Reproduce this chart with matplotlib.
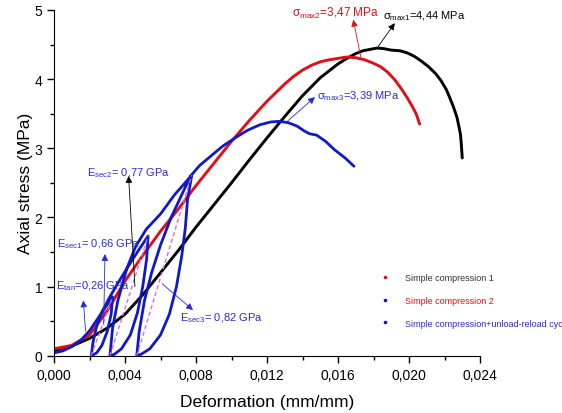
import matplotlib
matplotlib.use("Agg")
import matplotlib.pyplot as plt
from matplotlib.lines import Line2D
from matplotlib.ticker import MultipleLocator, FuncFormatter

plt.rcParams['font.family'] = ['Liberation Sans', 'DejaVu Sans']
plt.rcParams['mathtext.fontset'] = 'custom'
plt.rcParams['mathtext.rm'] = 'Liberation Sans'

# Simple compression 1 (black)
c1_x = [0, 0.001, 0.002, 0.003, 0.004, 0.005, 0.006, 0.007, 0.008, 0.009, 0.010,
        0.011, 0.012, 0.013, 0.014, 0.015, 0.0155, 0.016, 0.0165, 0.017, 0.0174,
        0.0178, 0.0182, 0.0186, 0.019, 0.0195, 0.0199, 0.0203, 0.0207, 0.0211,
        0.0215, 0.0218, 0.0221, 0.0223, 0.0225, 0.0227, 0.0228, 0.0229, 0.02295, 0.0230]
c1_y = [0.07, 0.14, 0.25, 0.4, 0.6, 0.88, 1.2, 1.52, 1.86, 2.18, 2.5,
        2.83, 3.15, 3.46, 3.76, 4.02, 4.12, 4.22, 4.3, 4.37, 4.41,
        4.43, 4.45, 4.44, 4.42, 4.41, 4.38, 4.33, 4.26, 4.18,
        4.08, 3.98, 3.85, 3.73, 3.6, 3.45, 3.33, 3.2, 3.05, 2.86]

# Simple compression 2 (red)
c2_x = [0, 0.001, 0.002, 0.003, 0.004, 0.005, 0.006, 0.007, 0.008, 0.009, 0.010,
        0.011, 0.012, 0.013, 0.0135, 0.014, 0.0145, 0.015, 0.0155, 0.016, 0.0165,
        0.017, 0.0175, 0.018, 0.0184, 0.0188, 0.0192, 0.0196, 0.0199, 0.0202,
        0.0204, 0.0206]
c2_y = [0.1, 0.15, 0.3, 0.65, 1.08, 1.45, 1.8, 2.12, 2.46, 2.78, 3.1,
        3.4, 3.68, 3.93, 4.04, 4.13, 4.2, 4.25, 4.28, 4.3, 4.32,
        4.31, 4.28, 4.23, 4.18, 4.1, 3.99, 3.85, 3.73, 3.6,
        3.5, 3.35]

# Simple compression + unload-reload cycles (blue), in loading order
load_x = [0, 0.0005, 0.001, 0.0015, 0.002, 0.0025, 0.003, 0.0033]
load_y = [0.04, 0.07, 0.13, 0.22, 0.36, 0.55, 0.74, 0.85]
unload1_x = [0.0033, 0.00322, 0.0030, 0.0027, 0.0024, 0.0021]
unload1_y = [0.85, 0.6, 0.35, 0.15, 0.04, 0.0]
reload1_x = [0.0021, 0.0022, 0.0024, 0.0027, 0.0031, 0.0036, 0.0042, 0.0047, 0.0053]
reload1_y = [0.0, 0.2, 0.42, 0.63, 0.83, 1.05, 1.3, 1.5, 1.73]
unload2_x = [0.0053, 0.00522, 0.0050, 0.0047, 0.0043, 0.0038, 0.0034, 0.00315]
unload2_y = [1.73, 1.4, 1.0, 0.62, 0.3, 0.1, 0.02, 0.0]
reload2_x = [0.00315, 0.0033, 0.0036, 0.0041, 0.0046, 0.0052, 0.0060, 0.0068, 0.00776]
reload2_y = [0.0, 0.4, 0.8, 1.26, 1.58, 1.83, 2.05, 2.33, 2.61]
unload3_x = [0.00776, 0.00752, 0.0074, 0.0072, 0.0069, 0.0065, 0.0060, 0.0054, 0.0049, 0.00466]
unload3_y = [2.61, 2.25, 1.85, 1.45, 1.0, 0.6, 0.3, 0.1, 0.02, 0.0]
reload3_x = [0.00466, 0.0048, 0.0051, 0.0055, 0.0060, 0.0066, 0.0072, 0.0077, 0.0082,
             0.0088, 0.0095, 0.0102, 0.0109, 0.0116, 0.0122, 0.0127, 0.0132, 0.0137,
             0.0141, 0.0144, 0.0148, 0.0153, 0.0158, 0.0164, 0.0169]
reload3_y = [0.0, 0.35, 0.8, 1.2, 1.6, 2.0, 2.33, 2.6, 2.75,
             2.88, 3.03, 3.15, 3.26, 3.34, 3.38, 3.39, 3.37, 3.32,
             3.25, 3.21, 3.19, 3.1, 2.98, 2.86, 2.74]

cyc_x = load_x + unload1_x + reload1_x + unload2_x + reload2_x + unload3_x + reload3_x
cyc_y = load_y + unload1_y + reload1_y + unload2_y + reload2_y + unload3_y + reload3_y

# secant lines of the three loops
sec_bottom_x = [0.0021, 0.00315, 0.00466]
sec_peak_x = [0.0033, 0.0053, 0.00776]
sec_peak_y = [0.85, 1.73, 2.61]

legend_labels = ["Simple compression 1", "Simple compression 2",
                 "Simple compression+unload-reload cyc"]

RED = "#e0101a"
BLUE = "#1018c8"
TXT_BLUE = "#2a2ad8"

fig = plt.figure(figsize=(5.62, 4.14), dpi=100)
ax = fig.add_axes([54 / 562, 57.3 / 414, 426 / 562, 345.7 / 414])

ax.plot(c1_x, c1_y, color="black", lw=2.1, solid_capstyle="round")
ax.plot(c2_x, c2_y, color=RED, lw=2.1, solid_capstyle="round")
ax.plot(cyc_x, cyc_y, color=BLUE, lw=2.0, solid_joinstyle="round", solid_capstyle="round")

for bx, px, py in zip(sec_bottom_x, sec_peak_x, sec_peak_y):
    ax.plot([bx, px], [0, py], color="#d070e0", lw=1.0, ls=(0, (3, 2)))

# annotations
arrow = dict(arrowstyle="-|>", lw=0.6, mutation_scale=10, shrinkA=0, shrinkB=0)
ax.annotate("", xy=(0.01686, 4.86), xytext=(0.0173, 4.3), arrowprops=dict(arrow, color=RED))
ax.annotate("", xy=(0.0192, 4.81), xytext=(0.0182, 4.45), arrowprops=dict(arrow, color="black"))
ax.annotate("", xy=(0.0147, 3.74), xytext=(0.0131, 3.38), arrowprops=dict(arrow, color=TXT_BLUE))
ax.annotate("", xy=(0.0042, 2.6), xytext=(0.00456, 1.0), arrowprops=dict(arrow, color="black"))
ax.annotate("", xy=(0.00287, 1.47), xytext=(0.0028, 0.45), arrowprops=dict(arrow, color=TXT_BLUE))
ax.annotate("", xy=(0.00165, 0.8), xytext=(0.00178, 0.35), arrowprops=dict(arrow, color=TXT_BLUE))
ax.annotate("", xy=(0.00783, 0.66), xytext=(0.0061, 1.04), arrowprops=dict(arrow, color=TXT_BLUE))

fs = 8
ax.text(0.0134, 4.96, r"$\mathrm{σ}_{\mathrm{max2}}$=3,47 MPa", color=RED, fontsize=8.5, va="center")
ax.text(0.01855, 4.93, r"$\mathrm{σ}_{\mathrm{max1}}$=4,44 MPa", color="black", fontsize=fs, va="center")
ax.text(0.0148, 3.77, r"$\mathrm{σ}_{\mathrm{max3}}$=3,39 MPa", color=TXT_BLUE, fontsize=fs, va="center")
ax.text(0.00186, 2.65, r"$\mathrm{E}_{\mathrm{sec2}}$= 0,77 GPa", color=TXT_BLUE, fontsize=fs, va="center")
ax.text(0.00016, 1.62, r"$\mathrm{E}_{\mathrm{sec1}}$= 0,66 GPa", color=TXT_BLUE, fontsize=fs, va="center")
ax.text(0.0001, 1.02, r"$\mathrm{E}_{\mathrm{tan}}$=0,26 GPa", color=TXT_BLUE, fontsize=fs, va="center")
ax.text(0.0071, 0.56, r"$\mathrm{E}_{\mathrm{sec3}}$= 0,82 GPa", color=TXT_BLUE, fontsize=fs, va="center")

# legend (dots and text colours as in the original figure)
handles = [Line2D([], [], ls="none", marker="o", ms=1.6, color=c) for c in [RED, BLUE, BLUE]]
ax.legend(handles, legend_labels, loc="upper left", bbox_to_anchor=(0.756, 0.238),
          frameon=False, fontsize=6.5, borderpad=0, borderaxespad=0,
          handlelength=2, handletextpad=1.2, labelspacing=1.5,
          labelcolor=["#333333", RED, TXT_BLUE])

ax.set_xlim(0, 0.024)
ax.set_ylim(0, 5)
ax.spines["top"].set_visible(False)
ax.spines["right"].set_visible(False)
ax.xaxis.set_major_locator(MultipleLocator(0.004))
ax.xaxis.set_minor_locator(MultipleLocator(0.002))
ax.yaxis.set_major_locator(MultipleLocator(1))
ax.yaxis.set_minor_locator(MultipleLocator(0.5))
ax.xaxis.set_major_formatter(FuncFormatter(lambda v, p: f"{v:.3f}".replace(".", ",")))
ax.tick_params(which="major", length=5, width=1, labelsize=10)
ax.tick_params(which="minor", length=3, width=1)
ax.set_xlabel("Deformation (mm/mm)", fontsize=12.5, labelpad=9)
ax.set_ylabel("Axial stress (MPa)", fontsize=12.5, labelpad=1)

fig.savefig("out.png", dpi=100)
